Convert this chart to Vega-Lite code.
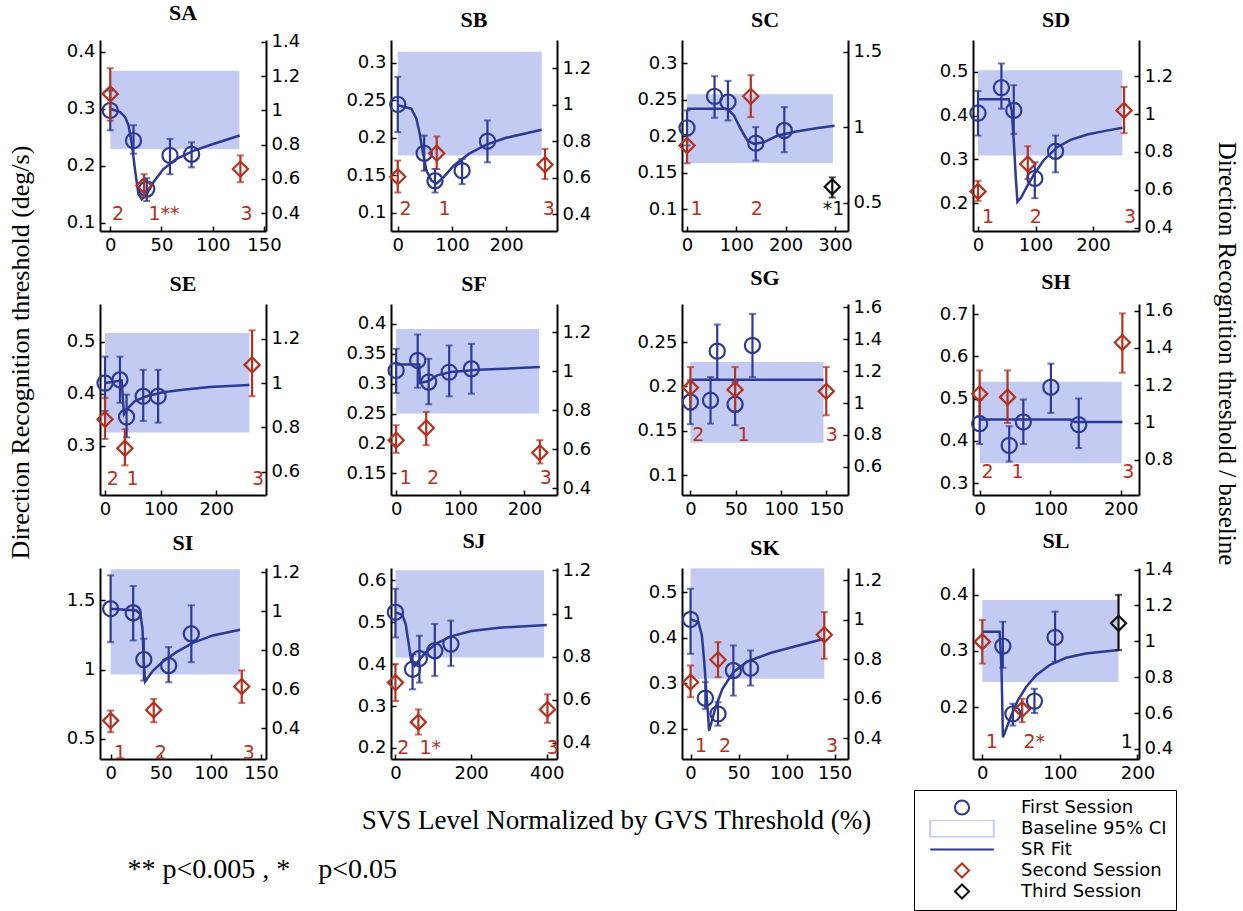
{
  "$schema": "https://vega.github.io/schema/vega-lite/v6.json",
  "background": "white",
  "padding": {"left": 7, "top": 1, "right": 0, "bottom": 0},
  "datasets": {
    "pts": [
      {"s":"SA","session":"First Session","x":0,"y":0.297,"lo":0.262,"hi":0.332},
      {"s":"SA","session":"First Session","x":22.7,"y":0.244,"lo":0.221,"hi":0.271},
      {"s":"SA","session":"First Session","x":35.6,"y":0.159,"lo":0.138,"hi":0.178},
      {"s":"SA","session":"First Session","x":58.3,"y":0.218,"lo":0.185,"hi":0.247},
      {"s":"SA","session":"First Session","x":79.4,"y":0.22,"lo":0.197,"hi":0.241},
      {"s":"SA","session":"Second Session","x":0,"y":0.326,"lo":0.279,"hi":0.371},
      {"s":"SA","session":"Second Session","x":33,"y":0.165,"lo":0.144,"hi":0.185},
      {"s":"SA","session":"Second Session","x":127,"y":0.194,"lo":0.171,"hi":0.218},
      {"s":"SB","session":"First Session","x":0,"y":0.2445,"lo":0.2074,"hi":0.2812},
      {"s":"SB","session":"First Session","x":48.75,"y":0.1792,"lo":0.1559,"hi":0.2029},
      {"s":"SB","session":"First Session","x":68.75,"y":0.1425,"lo":0.1268,"hi":0.1582},
      {"s":"SB","session":"First Session","x":118.75,"y":0.1559,"lo":0.138,"hi":0.1716},
      {"s":"SB","session":"First Session","x":165.6,"y":0.1953,"lo":0.1671,"hi":0.223},
      {"s":"SB","session":"Second Session","x":0,"y":0.1479,"lo":0.1268,"hi":0.1694},
      {"s":"SB","session":"Second Session","x":71.9,"y":0.1792,"lo":0.1582,"hi":0.2016},
      {"s":"SB","session":"Second Session","x":271.9,"y":0.164,"lo":0.1447,"hi":0.185},
      {"s":"SC","session":"First Session","x":0,"y":0.2117,"lo":0.1874,"hi":0.2356},
      {"s":"SC","session":"First Session","x":55.8,"y":0.2549,"lo":0.2255,"hi":0.2825},
      {"s":"SC","session":"First Session","x":83,"y":0.2471,"lo":0.2218,"hi":0.2761},
      {"s":"SC","session":"First Session","x":139.5,"y":0.1906,"lo":0.1667,"hi":0.2126},
      {"s":"SC","session":"First Session","x":197.3,"y":0.208,"lo":0.1782,"hi":0.2402},
      {"s":"SC","session":"Second Session","x":0,"y":0.1874,"lo":0.163,"hi":0.2011},
      {"s":"SC","session":"Second Session","x":129.3,"y":0.2549,"lo":0.2264,"hi":0.2839},
      {"s":"SC","session":"Third Session","x":294.6,"y":0.1308,"lo":0.1161,"hi":0.1437},
      {"s":"SD","session":"First Session","x":0,"y":0.4059,"lo":0.3546,"hi":0.4564},
      {"s":"SD","session":"First Session","x":40.7,"y":0.464,"lo":0.4158,"hi":0.5191},
      {"s":"SD","session":"First Session","x":62.2,"y":0.412,"lo":0.3585,"hi":0.4694},
      {"s":"SD","session":"First Session","x":98.8,"y":0.2567,"lo":0.2115,"hi":0.2934},
      {"s":"SD","session":"First Session","x":134.9,"y":0.3187,"lo":0.2705,"hi":0.3546},
      {"s":"SD","session":"Second Session","x":0,"y":0.2268,"lo":0.2054,"hi":0.2513},
      {"s":"SD","session":"Second Session","x":86.6,"y":0.2896,"lo":0.2552,"hi":0.3301},
      {"s":"SD","session":"Second Session","x":254,"y":0.412,"lo":0.36,"hi":0.4656},
      {"s":"SE","session":"First Session","x":0,"y":0.4206,"lo":0.3667,"hi":0.4714},
      {"s":"SE","session":"First Session","x":26.9,"y":0.427,"lo":0.3825,"hi":0.4714},
      {"s":"SE","session":"First Session","x":38.8,"y":0.3552,"lo":0.3159,"hi":0.3984},
      {"s":"SE","session":"First Session","x":68.7,"y":0.3952,"lo":0.3476,"hi":0.446},
      {"s":"SE","session":"First Session","x":95.5,"y":0.3952,"lo":0.3444,"hi":0.446},
      {"s":"SE","session":"Second Session","x":0,"y":0.3508,"lo":0.3127,"hi":0.3921},
      {"s":"SE","session":"Second Session","x":35.8,"y":0.2949,"lo":0.2619,"hi":0.3317},
      {"s":"SE","session":"Second Session","x":264.5,"y":0.4556,"lo":0.3952,"hi":0.5222},
      {"s":"SF","session":"First Session","x":0,"y":0.3222,"lo":0.2844,"hi":0.3583},
      {"s":"SF","session":"First Session","x":33.6,"y":0.3389,"lo":0.2933,"hi":0.3822},
      {"s":"SF","session":"First Session","x":50.7,"y":0.3028,"lo":0.2656,"hi":0.3417},
      {"s":"SF","session":"First Session","x":82.7,"y":0.3194,"lo":0.2789,"hi":0.3639},
      {"s":"SF","session":"First Session","x":117.3,"y":0.325,"lo":0.2833,"hi":0.3667},
      {"s":"SF","session":"Second Session","x":0,"y":0.2056,"lo":0.1844,"hi":0.2306},
      {"s":"SF","session":"Second Session","x":46.9,"y":0.2261,"lo":0.1972,"hi":0.2528},
      {"s":"SF","session":"Second Session","x":224,"y":0.1844,"lo":0.1667,"hi":0.2056},
      {"s":"SG","session":"First Session","x":0,"y":0.1825,"lo":0.1574,"hi":0.2069},
      {"s":"SG","session":"First Session","x":22.2,"y":0.1844,"lo":0.1581,"hi":0.2106},
      {"s":"SG","session":"First Session","x":29.6,"y":0.2399,"lo":0.2076,"hi":0.2699},
      {"s":"SG","session":"First Session","x":49.3,"y":0.1799,"lo":0.1563,"hi":0.205},
      {"s":"SG","session":"First Session","x":68.5,"y":0.2463,"lo":0.2106,"hi":0.2819},
      {"s":"SG","session":"Second Session","x":0,"y":0.1986,"lo":0.1739,"hi":0.2219},
      {"s":"SG","session":"Second Session","x":49.3,"y":0.1964,"lo":0.1713,"hi":0.2219},
      {"s":"SG","session":"Second Session","x":150,"y":0.1945,"lo":0.1675,"hi":0.2219},
      {"s":"SH","session":"First Session","x":0,"y":0.441,"lo":0.3927,"hi":0.498},
      {"s":"SH","session":"First Session","x":41.9,"y":0.3895,"lo":0.3515,"hi":0.4347},
      {"s":"SH","session":"First Session","x":61.9,"y":0.445,"lo":0.3927,"hi":0.498},
      {"s":"SH","session":"First Session","x":101,"y":0.5273,"lo":0.4663,"hi":0.5828},
      {"s":"SH","session":"First Session","x":140.5,"y":0.4386,"lo":0.3832,"hi":0.5004},
      {"s":"SH","session":"Second Session","x":0,"y":0.5115,"lo":0.4584,"hi":0.5669},
      {"s":"SH","session":"Second Session","x":39.5,"y":0.5036,"lo":0.4426,"hi":0.5669},
      {"s":"SH","session":"Second Session","x":202.4,"y":0.6327,"lo":0.5614,"hi":0.7016},
      {"s":"SI","session":"First Session","x":0,"y":1.4398,"lo":1.1988,"hi":1.6807},
      {"s":"SI","session":"First Session","x":22.5,"y":1.4108,"lo":1.2108,"hi":1.6036},
      {"s":"SI","session":"First Session","x":33.1,"y":1.0735,"lo":0.9217,"hi":1.2229},
      {"s":"SI","session":"First Session","x":57.9,"y":1.0301,"lo":0.9096,"hi":1.1627},
      {"s":"SI","session":"First Session","x":80.5,"y":1.259,"lo":1.0542,"hi":1.4639},
      {"s":"SI","session":"Second Session","x":0,"y":0.6325,"lo":0.5482,"hi":0.7048},
      {"s":"SI","session":"Second Session","x":43,"y":0.7096,"lo":0.6205,"hi":0.7892},
      {"s":"SI","session":"Second Session","x":130.8,"y":0.8783,"lo":0.7602,"hi":0.994},
      {"s":"SJ","session":"First Session","x":0,"y":0.524,"lo":0.464,"hi":0.58},
      {"s":"SJ","session":"First Session","x":45.2,"y":0.388,"lo":0.34,"hi":0.424},
      {"s":"SJ","session":"First Session","x":63.3,"y":0.4136,"lo":0.356,"hi":0.468},
      {"s":"SJ","session":"First Session","x":104,"y":0.432,"lo":0.372,"hi":0.496},
      {"s":"SJ","session":"First Session","x":146.6,"y":0.448,"lo":0.396,"hi":0.504},
      {"s":"SJ","session":"Second Session","x":0,"y":0.356,"lo":0.312,"hi":0.4},
      {"s":"SJ","session":"Second Session","x":60.6,"y":0.2616,"lo":0.232,"hi":0.292},
      {"s":"SJ","session":"Second Session","x":401.8,"y":0.292,"lo":0.26,"hi":0.328},
      {"s":"SK","session":"First Session","x":0,"y":0.44,"lo":0.3647,"hi":0.5073},
      {"s":"SK","session":"First Session","x":15.4,"y":0.2674,"lo":0.244,"hi":0.3025},
      {"s":"SK","session":"First Session","x":28.6,"y":0.233,"lo":0.2074,"hi":0.2586},
      {"s":"SK","session":"First Session","x":44.6,"y":0.3281,"lo":0.2732,"hi":0.383},
      {"s":"SK","session":"First Session","x":62.5,"y":0.3332,"lo":0.2952,"hi":0.372},
      {"s":"SK","session":"Second Session","x":0,"y":0.3025,"lo":0.2696,"hi":0.3391},
      {"s":"SK","session":"Second Session","x":28.6,"y":0.3515,"lo":0.3135,"hi":0.3903},
      {"s":"SK","session":"Second Session","x":139.3,"y":0.4064,"lo":0.3537,"hi":0.4561},
      {"s":"SL","session":"First Session","x":26.5,"y":0.3087,"lo":0.27,"hi":0.352},
      {"s":"SL","session":"First Session","x":39.4,"y":0.188,"lo":0.1672,"hi":0.206},
      {"s":"SL","session":"First Session","x":67.2,"y":0.2107,"lo":0.1893,"hi":0.2328},
      {"s":"SL","session":"First Session","x":93.8,"y":0.3242,"lo":0.2806,"hi":0.3701},
      {"s":"SL","session":"Second Session","x":0,"y":0.3164,"lo":0.2776,"hi":0.3552},
      {"s":"SL","session":"Second Session","x":51.4,"y":0.1958,"lo":0.1731,"hi":0.2149},
      {"s":"SL","session":"Third Session","x":175.6,"y":0.3493,"lo":0.3015,"hi":0.4}
    ],
    "fit": [
      {"s":"SA","x":0,"y":0.3},{"s":"SA","x":9.7,"y":0.294},{"s":"SA","x":14.6,"y":0.285},{"s":"SA","x":17.8,"y":0.271},{"s":"SA","x":21.1,"y":0.238},{"s":"SA","x":24.3,"y":0.191},{"s":"SA","x":27.5,"y":0.15},{"s":"SA","x":30.8,"y":0.141},{"s":"SA","x":35.6,"y":0.15},{"s":"SA","x":42.1,"y":0.171},{"s":"SA","x":51.8,"y":0.194},{"s":"SA","x":64.8,"y":0.212},{"s":"SA","x":81,"y":0.226},{"s":"SA","x":100.4,"y":0.238},{"s":"SA","x":126.3,"y":0.253},
      {"s":"SB","x":0,"y":0.2432},{"s":"SB","x":25,"y":0.2387},{"s":"SB","x":34.4,"y":0.2253},{"s":"SB","x":40.6,"y":0.2051},{"s":"SB","x":46.9,"y":0.1783},{"s":"SB","x":53.1,"y":0.1559},{"s":"SB","x":62.5,"y":0.1425},{"s":"SB","x":71.9,"y":0.1389},{"s":"SB","x":84.4,"y":0.147},{"s":"SB","x":103.1,"y":0.1626},{"s":"SB","x":131.3,"y":0.1783},{"s":"SB","x":162.5,"y":0.1904},{"s":"SB","x":200,"y":0.1998},{"s":"SB","x":237.5,"y":0.206},{"s":"SB","x":265.6,"y":0.2105},
      {"s":"SC","x":0,"y":0.2379},{"s":"SC","x":81.6,"y":0.2379},{"s":"SC","x":95.2,"y":0.2287},{"s":"SC","x":108.8,"y":0.2103},{"s":"SC","x":122.4,"y":0.1943},{"s":"SC","x":136,"y":0.1897},{"s":"SC","x":156.5,"y":0.192},{"s":"SC","x":183.7,"y":0.2011},{"s":"SC","x":224.5,"y":0.2071},{"s":"SC","x":265.3,"y":0.2113},{"s":"SC","x":299.3,"y":0.2145},
      {"s":"SD","x":0,"y":0.4373},{"s":"SD","x":53.5,"y":0.4373},{"s":"SD","x":58.7,"y":0.412},{"s":"SD","x":62.2,"y":0.3432},{"s":"SD","x":65.7,"y":0.259},{"s":"SD","x":68.6,"y":0.2031},{"s":"SD","x":75,"y":0.2131},{"s":"SD","x":84.3,"y":0.236},{"s":"SD","x":97.1,"y":0.2651},{"s":"SD","x":114.5,"y":0.2988},{"s":"SD","x":137.8,"y":0.3279},{"s":"SD","x":161,"y":0.3447},{"s":"SD","x":190.1,"y":0.3569},{"s":"SD","x":219.2,"y":0.3646},{"s":"SD","x":251.2,"y":0.3722},
      {"s":"SE","x":0,"y":0.4206},{"s":"SE","x":29.9,"y":0.4257},{"s":"SE","x":34,"y":0.3603},{"s":"SE","x":41.8,"y":0.373},{"s":"SE","x":53.7,"y":0.3857},{"s":"SE","x":74.6,"y":0.3952},{"s":"SE","x":104.5,"y":0.4029},{"s":"SE","x":140.3,"y":0.4079},{"s":"SE","x":188,"y":0.413},{"s":"SE","x":259.7,"y":0.4168},
      {"s":"SF","x":0,"y":0.3322},{"s":"SF","x":36,"y":0.3322},{"s":"SF","x":37,"y":0.3011},{"s":"SF","x":50.7,"y":0.3044},{"s":"SF","x":64,"y":0.3139},{"s":"SF","x":85.3,"y":0.3194},{"s":"SF","x":128,"y":0.3233},{"s":"SF","x":224,"y":0.3278},
      {"s":"SG","x":0,"y":0.2076},{"s":"SG","x":147,"y":0.2076},
      {"s":"SH","x":0,"y":0.4505},{"s":"SH","x":128,"y":0.4505},{"s":"SH","x":135,"y":0.445},{"s":"SH","x":202.4,"y":0.445},
      {"s":"SI","x":0,"y":1.4398},{"s":"SI","x":25.8,"y":1.4277},{"s":"SI","x":29.8,"y":1.3964},{"s":"SI","x":31.8,"y":1.2952},{"s":"SI","x":33.1,"y":1.0542},{"s":"SI","x":34.4,"y":0.9145},{"s":"SI","x":37.4,"y":0.9458},{"s":"SI","x":42.4,"y":0.994},{"s":"SI","x":52.3,"y":1.059},{"s":"SI","x":65.6,"y":1.1265},{"s":"SI","x":82.1,"y":1.194},{"s":"SI","x":102,"y":1.247},{"s":"SI","x":129.1,"y":1.288},
      {"s":"SJ","x":0,"y":0.524},{"s":"SJ","x":18.1,"y":0.5176},{"s":"SJ","x":27.1,"y":0.496},{"s":"SJ","x":34.4,"y":0.452},{"s":"SJ","x":41.6,"y":0.408},{"s":"SJ","x":50.7,"y":0.396},{"s":"SJ","x":63.3,"y":0.4104},{"s":"SJ","x":81.4,"y":0.4296},{"s":"SJ","x":110.4,"y":0.4504},{"s":"SJ","x":146.6,"y":0.4664},{"s":"SJ","x":200.9,"y":0.4792},{"s":"SJ","x":273.3,"y":0.4872},{"s":"SJ","x":400,"y":0.4936},
      {"s":"SK","x":0,"y":0.44},{"s":"SK","x":8.2,"y":0.4342},{"s":"SK","x":11.8,"y":0.4049},{"s":"SK","x":14.3,"y":0.3464},{"s":"SK","x":16.8,"y":0.2732},{"s":"SK","x":19.3,"y":0.1964},{"s":"SK","x":21.8,"y":0.2147},{"s":"SK","x":26.1,"y":0.2476},{"s":"SK","x":33.2,"y":0.2879},{"s":"SK","x":44.6,"y":0.3244},{"s":"SK","x":58.9,"y":0.3478},{"s":"SK","x":83.9,"y":0.3669},{"s":"SK","x":112.5,"y":0.383},{"s":"SK","x":139.3,"y":0.3976},
      {"s":"SL","x":0,"y":0.3343},{"s":"SL","x":22.3,"y":0.3343},{"s":"SL","x":24.8,"y":0.2657},{"s":"SL","x":26.6,"y":0.1463},{"s":"SL","x":30.8,"y":0.1612},{"s":"SL","x":37.3,"y":0.1851},{"s":"SL","x":45.8,"y":0.2119},{"s":"SL","x":56.5,"y":0.2358},{"s":"SL","x":69.4,"y":0.2567},{"s":"SL","x":86.5,"y":0.2746},{"s":"SL","x":107.9,"y":0.2878},{"s":"SL","x":133.6,"y":0.2955},{"s":"SL","x":175.6,"y":0.3015}
    ],
    "band": [
      {"s":"SA","x":0,"x2":126,"y":0.2294,"y2":0.3665},
      {"s":"SB","x":0,"x2":265.6,"y":0.1761,"y2":0.3148},
      {"s":"SC","x":0,"x2":296,"y":0.1634,"y2":0.2577},
      {"s":"SD","x":0,"x2":251,"y":0.3087,"y2":0.5038},
      {"s":"SE","x":0,"x2":259.7,"y":0.3254,"y2":0.5171},
      {"s":"SF","x":0,"x2":223,"y":0.25,"y2":0.3917},
      {"s":"SG","x":0,"x2":147,"y":0.1364,"y2":0.2275},
      {"s":"SH","x":0,"x2":201.4,"y":0.3475,"y2":0.54},
      {"s":"SI","x":0,"x2":129,"y":0.965,"y2":1.724},
      {"s":"SJ","x":0,"x2":392.8,"y":0.416,"y2":0.624},
      {"s":"SK","x":0,"x2":139.3,"y":0.3098,"y2":0.552},
      {"s":"SL","x":0,"x2":175.6,"y":0.2448,"y2":0.391}
    ],
    "lab": [
      {"s":"SA","session":"Second Session","x":1.6,"y":0.1147,"t":"2"},
      {"s":"SA","session":"Second Session","x":37.3,"y":0.1147,"t":"1**"},
      {"s":"SA","session":"Second Session","x":127,"y":0.1147,"t":"3"},
      {"s":"SB","session":"Second Session","x":3.1,"y":0.1045,"t":"2"},
      {"s":"SB","session":"Second Session","x":75,"y":0.1045,"t":"1"},
      {"s":"SB","session":"Second Session","x":267.5,"y":0.1045,"t":"3"},
      {"s":"SC","session":"Second Session","x":6.8,"y":0.1,"t":"1"},
      {"s":"SC","session":"Second Session","x":129.3,"y":0.1,"t":"2"},
      {"s":"SC","session":"Third Session","x":275.5,"y":0.1,"t":"*1"},
      {"s":"SD","session":"Second Session","x":7,"y":0.1687,"t":"1"},
      {"s":"SD","session":"Second Session","x":90.1,"y":0.1687,"t":"2"},
      {"s":"SD","session":"Second Session","x":254.1,"y":0.1687,"t":"3"},
      {"s":"SE","session":"Second Session","x":3,"y":0.2365,"t":"2"},
      {"s":"SE","session":"Second Session","x":38.8,"y":0.2365,"t":"1"},
      {"s":"SE","session":"Second Session","x":264.5,"y":0.2365,"t":"3"},
      {"s":"SF","session":"Second Session","x":5.3,"y":0.1417,"t":"1"},
      {"s":"SF","session":"Second Session","x":48,"y":0.1417,"t":"2"},
      {"s":"SF","session":"Second Session","x":224,"y":0.1417,"t":"3"},
      {"s":"SG","session":"Second Session","x":1.9,"y":0.145,"t":"2"},
      {"s":"SG","session":"Second Session","x":51.9,"y":0.145,"t":"1"},
      {"s":"SG","session":"Second Session","x":149.3,"y":0.145,"t":"3"},
      {"s":"SH","session":"Second Session","x":2.4,"y":0.3277,"t":"2"},
      {"s":"SH","session":"Second Session","x":45.2,"y":0.3277,"t":"1"},
      {"s":"SH","session":"Second Session","x":202.4,"y":0.3277,"t":"3"},
      {"s":"SI","session":"Second Session","x":3.3,"y":0.398,"t":"1"},
      {"s":"SI","session":"Second Session","x":44,"y":0.398,"t":"2"},
      {"s":"SI","session":"Second Session","x":131.8,"y":0.398,"t":"3"},
      {"s":"SJ","session":"Second Session","x":4.5,"y":0.2,"t":"2"},
      {"s":"SJ","session":"Second Session","x":63.3,"y":0.2,"t":"1*"},
      {"s":"SJ","session":"Second Session","x":400,"y":0.2,"t":"3"},
      {"s":"SK","session":"Second Session","x":4.6,"y":0.1635,"t":"1"},
      {"s":"SK","session":"Second Session","x":29.6,"y":0.1635,"t":"2"},
      {"s":"SK","session":"Second Session","x":141,"y":0.1635,"t":"3"},
      {"s":"SL","session":"Second Session","x":4.3,"y":0.1373,"t":"1"},
      {"s":"SL","session":"Second Session","x":53.1,"y":0.1373,"t":"2*"},
      {"s":"SL","session":"Third Session","x":178.6,"y":0.1373,"t":"1"}
    ]
  },
  "columns": 4,
  "bounds": "flush",
  "spacing": {"row": 73, "column": 125},
  "concat": [
    {"title": "SA", "width": 166, "height": 191,
     "layer": [
      {"encoding": {
        "x": {"field": "x", "type": "quantitative", "scale": {"domain": [-10, 152], "nice": false, "zero": false}, "axis": {"values": [0, 50, 100, 150], "title": null}},
        "y": {"field": "y", "type": "quantitative", "scale": {"domain": [0.0853, 0.4206], "nice": false, "zero": false},
          "axis": {"values": [0.1, 0.2, 0.3, 0.4], "title": "Direction Recognition threshold (deg/s)", "titleFont": "Liberation Serif", "titleFontSize": 26, "titleFontWeight": "normal", "titleX": -67, "titleY": 312, "titleAngle": -90, "titleAlign": "center", "titleBaseline": "bottom"}}},
       "layer": [
        {"data": {"name": "band"}, "transform": [{"filter": "datum.s === 'SA'"}], "mark": {"type": "rect", "color": "#c3cbf2"}, "encoding": {"x2": {"field": "x2"}, "y2": {"field": "y2"}}},
        {"data": {"name": "fit"}, "transform": [{"filter": "datum.s === 'SA'"}], "mark": {"type": "line", "color": "#2c3a96", "strokeWidth": 2.5}},
        {"data": {"name": "pts"}, "transform": [{"filter": "datum.s === 'SA'"}], "mark": {"type": "point", "filled": false, "opacity": 1, "size": 230, "strokeWidth": 2.2},
         "encoding": {
          "color": {"field": "session", "type": "nominal", "scale": {"domain": ["First Session","Baseline 95% CI","SR Fit","Second Session","Third Session"], "range": ["#2c3a96","#c3cbf2","#2c3a96","#b5311f","#111111"]},
            "legend": {"title": null, "orient": "none", "legendX": 814, "legendY": 750, "padding": 9, "strokeColor": "#000", "fillColor": "#fff",
              "labelFont": "DejaVu Sans", "labelFontSize": 18, "labelColor": "#000", "labelLimit": 400, "symbolSize": 200, "symbolOffset": 30, "labelOffset": 50, "rowPadding": 2, "clipHeight": 17,
              "symbolStrokeWidth": 2,
              "labelExpr": "datum.label + '\u00a0\u00a0\u00a0\u00a0\u00a0\u00a0\u00a0\u00a0\u00a0\u00a0\u00a0\u00a0'",
              "encode": {
                "symbols": {
                  "fill": {"value": {"expr": "datum.value === 'Baseline 95% CI' ? '#c3cbf2' : 'transparent'"}},
                  "stroke": {"value": {"expr": "datum.value === 'Baseline 95% CI' ? 'transparent' : datum.value === 'Second Session' ? '#b5311f' : datum.value === 'Third Session' ? '#111111' : '#2c3a96'"}},
                  "strokeWidth": {"value": 2}, "opacity": {"value": 1}}}}},
          "shape": {"field": "session", "type": "nominal", "scale": {"domain": ["First Session","Baseline 95% CI","SR Fit","Second Session","Third Session"], "range": ["circle","M-4.5,-1.2H4.5V1.2H-4.5Z","M-4.5,0H4.5","diamond","diamond"]},
            "legend": {"title": null, "orient": "none", "legendX": 814, "legendY": 750, "padding": 9, "strokeColor": "#000", "fillColor": "#fff",
              "labelFont": "DejaVu Sans", "labelFontSize": 18, "labelColor": "#000", "labelLimit": 400, "symbolSize": 200, "symbolOffset": 30, "labelOffset": 50, "rowPadding": 2, "clipHeight": 17,
              "symbolStrokeWidth": 2,
              "labelExpr": "datum.label + '\u00a0\u00a0\u00a0\u00a0\u00a0\u00a0\u00a0\u00a0\u00a0\u00a0\u00a0\u00a0'",
              "encode": {
                "symbols": {
                  "fill": {"value": {"expr": "datum.value === 'Baseline 95% CI' ? '#c3cbf2' : 'transparent'"}},
                  "stroke": {"value": {"expr": "datum.value === 'Baseline 95% CI' ? 'transparent' : datum.value === 'Second Session' ? '#b5311f' : datum.value === 'Third Session' ? '#111111' : '#2c3a96'"}},
                  "strokeWidth": {"value": 2}, "opacity": {"value": 1}}}}}}},
        {"data": {"name": "pts"}, "transform": [{"filter": "datum.s === 'SA'"}], "mark": {"type": "errorbar", "ticks": {"size": 7, "thickness": 2}, "rule": {"strokeWidth": 2.2}},
         "encoding": {"y": {"field": "lo", "type": "quantitative", "scale": {"domain": [0.0853, 0.4206], "nice": false, "zero": false},
           "axis": {"values": [0.1, 0.2, 0.3, 0.4], "title": "Direction Recognition threshold (deg/s)", "titleFont": "Liberation Serif", "titleFontSize": 26, "titleFontWeight": "normal", "titleX": -67, "titleY": 312, "titleAngle": -90, "titleAlign": "center", "titleBaseline": "bottom"}}, "y2": {"field": "hi"},
          "color": {"condition": [{"test": "datum.session === 'Second Session'", "value": "#b5311f"}, {"test": "datum.session === 'Third Session'", "value": "#111111"}], "value": "#2c3a96"}}},
        {"data": {"name": "lab"}, "transform": [{"filter": "datum.s === 'SA'"}], "mark": {"type": "text", "align": "left", "baseline": "middle", "font": "DejaVu Sans", "fontSize": 19},
         "encoding": {"text": {"field": "t"}, "color": {"condition": [{"test": "datum.session === 'Second Session'", "value": "#b5311f"}, {"test": "datum.session === 'Third Session'", "value": "#111111"}], "value": "#2c3a96"}}}
       ]},
      {"data": {"values": [{}]}, "mark": {"type": "rule", "opacity": 0},
       "encoding": {"y": {"datum": 1, "type": "quantitative", "scale": {"domain": [0.2965, 1.41], "nice": false, "zero": false}, "axis": {"orient": "right", "values": [0.4, 0.6, 0.8, 1, 1.2, 1.4], "title": null}}}}
     ],
     "resolve": {"scale": {"y": "independent"}}},

    {"title": "SB", "width": 166, "height": 191,
     "layer": [
      {"encoding": {
        "x": {"field": "x", "type": "quantitative", "scale": {"domain": [-12.5, 294], "nice": false, "zero": false}, "axis": {"values": [0, 100, 200], "title": null}},
        "y": {"field": "y", "type": "quantitative", "scale": {"domain": [0.0754, 0.3304], "nice": false, "zero": false}, "axis": {"values": [0.1, 0.15, 0.2, 0.25, 0.3], "title": null}}},
       "layer": [
        {"data": {"name": "band"}, "transform": [{"filter": "datum.s === 'SB'"}], "mark": {"type": "rect", "color": "#c3cbf2"}, "encoding": {"x2": {"field": "x2"}, "y2": {"field": "y2"}}},
        {"data": {"name": "fit"}, "transform": [{"filter": "datum.s === 'SB'"}], "mark": {"type": "line", "color": "#2c3a96", "strokeWidth": 2.5}},
        {"data": {"name": "pts"}, "transform": [{"filter": "datum.s === 'SB'"}], "mark": {"type": "errorbar", "ticks": {"size": 7, "thickness": 2}, "rule": {"strokeWidth": 2.2}},
         "encoding": {"y": {"field": "lo", "type": "quantitative", "scale": {"domain": [0.0754, 0.3304], "nice": false, "zero": false}, "axis": {"values": [0.1, 0.15, 0.2, 0.25, 0.3], "title": null}}, "y2": {"field": "hi"},
          "color": {"condition": [{"test": "datum.session === 'Second Session'", "value": "#b5311f"}, {"test": "datum.session === 'Third Session'", "value": "#111111"}], "value": "#2c3a96"}}},
        {"data": {"name": "pts"}, "transform": [{"filter": "datum.s === 'SB'"}], "mark": {"type": "point", "filled": false, "opacity": 1, "size": 230, "strokeWidth": 2.2},
         "encoding": {
          "color": {"field": "session", "type": "nominal", "scale": {"domain": ["First Session","Baseline 95% CI","SR Fit","Second Session","Third Session"], "range": ["#2c3a96","#c3cbf2","#2c3a96","#b5311f","#111111"]}},
          "shape": {"field": "session", "type": "nominal", "scale": {"domain": ["First Session","Baseline 95% CI","SR Fit","Second Session","Third Session"], "range": ["circle","M-4.5,-1.2H4.5V1.2H-4.5Z","M-4.5,0H4.5","diamond","diamond"]}}}},
        {"data": {"name": "lab"}, "transform": [{"filter": "datum.s === 'SB'"}], "mark": {"type": "text", "align": "left", "baseline": "middle", "font": "DejaVu Sans", "fontSize": 19},
         "encoding": {"text": {"field": "t"}, "color": {"condition": [{"test": "datum.session === 'Second Session'", "value": "#b5311f"}, {"test": "datum.session === 'Third Session'", "value": "#111111"}], "value": "#2c3a96"}}}
       ]},
      {"data": {"values": [{}]}, "mark": {"type": "rule", "opacity": 0},
       "encoding": {"y": {"datum": 1, "type": "quantitative", "scale": {"domain": [0.308, 1.356], "nice": false, "zero": false}, "axis": {"orient": "right", "values": [0.4, 0.6, 0.8, 1, 1.2], "title": null}}}}
     ],
     "resolve": {"scale": {"y": "independent"}}},

    {"title": "SC", "width": 166, "height": 191,
     "layer": [
      {"encoding": {
        "x": {"field": "x", "type": "quantitative", "scale": {"domain": [-10.2, 326.5], "nice": false, "zero": false}, "axis": {"values": [0, 100, 200, 300], "title": null}},
        "y": {"field": "y", "type": "quantitative", "scale": {"domain": [0.0701, 0.3322], "nice": false, "zero": false}, "axis": {"values": [0.1, 0.15, 0.2, 0.25, 0.3], "title": null}}},
       "layer": [
        {"data": {"name": "band"}, "transform": [{"filter": "datum.s === 'SC'"}], "mark": {"type": "rect", "color": "#c3cbf2"}, "encoding": {"x2": {"field": "x2"}, "y2": {"field": "y2"}}},
        {"data": {"name": "fit"}, "transform": [{"filter": "datum.s === 'SC'"}], "mark": {"type": "line", "color": "#2c3a96", "strokeWidth": 2.5}},
        {"data": {"name": "pts"}, "transform": [{"filter": "datum.s === 'SC'"}], "mark": {"type": "errorbar", "ticks": {"size": 7, "thickness": 2}, "rule": {"strokeWidth": 2.2}},
         "encoding": {"y": {"field": "lo", "type": "quantitative", "scale": {"domain": [0.0701, 0.3322], "nice": false, "zero": false}, "axis": {"values": [0.1, 0.15, 0.2, 0.25, 0.3], "title": null}}, "y2": {"field": "hi"},
          "color": {"condition": [{"test": "datum.session === 'Second Session'", "value": "#b5311f"}, {"test": "datum.session === 'Third Session'", "value": "#111111"}], "value": "#2c3a96"}}},
        {"data": {"name": "pts"}, "transform": [{"filter": "datum.s === 'SC'"}], "mark": {"type": "point", "filled": false, "opacity": 1, "size": 230, "strokeWidth": 2.2},
         "encoding": {
          "color": {"field": "session", "type": "nominal", "scale": {"domain": ["First Session","Baseline 95% CI","SR Fit","Second Session","Third Session"], "range": ["#2c3a96","#c3cbf2","#2c3a96","#b5311f","#111111"]}},
          "shape": {"field": "session", "type": "nominal", "scale": {"domain": ["First Session","Baseline 95% CI","SR Fit","Second Session","Third Session"], "range": ["circle","M-4.5,-1.2H4.5V1.2H-4.5Z","M-4.5,0H4.5","diamond","diamond"]}}}},
        {"data": {"name": "lab"}, "transform": [{"filter": "datum.s === 'SC'"}], "mark": {"type": "text", "align": "left", "baseline": "middle", "font": "DejaVu Sans", "fontSize": 19},
         "encoding": {"text": {"field": "t"}, "color": {"condition": [{"test": "datum.session === 'Second Session'", "value": "#b5311f"}, {"test": "datum.session === 'Third Session'", "value": "#111111"}], "value": "#2c3a96"}}}
       ]},
      {"data": {"values": [{}]}, "mark": {"type": "rule", "opacity": 0},
       "encoding": {"y": {"datum": 1, "type": "quantitative", "scale": {"domain": [0.311, 1.578], "nice": false, "zero": false}, "axis": {"orient": "right", "values": [0.5, 1, 1.5], "title": null}}}}
     ],
     "resolve": {"scale": {"y": "independent"}}},

    {"title": "SD", "width": 166, "height": 191,
     "layer": [
      {"encoding": {
        "x": {"field": "x", "type": "quantitative", "scale": {"domain": [-8.7, 280], "nice": false, "zero": false}, "axis": {"values": [0, 100, 200], "title": null}},
        "y": {"field": "y", "type": "quantitative", "scale": {"domain": [0.1366, 0.5727], "nice": false, "zero": false}, "axis": {"values": [0.2, 0.3, 0.4, 0.5], "title": null}}},
       "layer": [
        {"data": {"name": "band"}, "transform": [{"filter": "datum.s === 'SD'"}], "mark": {"type": "rect", "color": "#c3cbf2"}, "encoding": {"x2": {"field": "x2"}, "y2": {"field": "y2"}}},
        {"data": {"name": "fit"}, "transform": [{"filter": "datum.s === 'SD'"}], "mark": {"type": "line", "color": "#2c3a96", "strokeWidth": 2.5}},
        {"data": {"name": "pts"}, "transform": [{"filter": "datum.s === 'SD'"}], "mark": {"type": "errorbar", "ticks": {"size": 7, "thickness": 2}, "rule": {"strokeWidth": 2.2}},
         "encoding": {"y": {"field": "lo", "type": "quantitative", "scale": {"domain": [0.1366, 0.5727], "nice": false, "zero": false}, "axis": {"values": [0.2, 0.3, 0.4, 0.5], "title": null}}, "y2": {"field": "hi"},
          "color": {"condition": [{"test": "datum.session === 'Second Session'", "value": "#b5311f"}, {"test": "datum.session === 'Third Session'", "value": "#111111"}], "value": "#2c3a96"}}},
        {"data": {"name": "pts"}, "transform": [{"filter": "datum.s === 'SD'"}], "mark": {"type": "point", "filled": false, "opacity": 1, "size": 230, "strokeWidth": 2.2},
         "encoding": {
          "color": {"field": "session", "type": "nominal", "scale": {"domain": ["First Session","Baseline 95% CI","SR Fit","Second Session","Third Session"], "range": ["#2c3a96","#c3cbf2","#2c3a96","#b5311f","#111111"]}},
          "shape": {"field": "session", "type": "nominal", "scale": {"domain": ["First Session","Baseline 95% CI","SR Fit","Second Session","Third Session"], "range": ["circle","M-4.5,-1.2H4.5V1.2H-4.5Z","M-4.5,0H4.5","diamond","diamond"]}}}},
        {"data": {"name": "lab"}, "transform": [{"filter": "datum.s === 'SD'"}], "mark": {"type": "text", "align": "left", "baseline": "middle", "font": "DejaVu Sans", "fontSize": 19},
         "encoding": {"text": {"field": "t"}, "color": {"condition": [{"test": "datum.session === 'Second Session'", "value": "#b5311f"}, {"test": "datum.session === 'Third Session'", "value": "#111111"}], "value": "#2c3a96"}}}
       ]},
      {"data": {"values": [{}]}, "mark": {"type": "rule", "opacity": 0},
       "encoding": {"y": {"datum": 1, "type": "quantitative", "scale": {"domain": [0.382, 1.391], "nice": false, "zero": false},
         "axis": {"orient": "right", "values": [0.4, 0.6, 0.8, 1, 1.2], "title": "Direction Recognition threshold / baseline", "titleFont": "Liberation Serif", "titleFontSize": 25, "titleFontWeight": "normal", "titleX": 74, "titleY": 313, "titleAngle": 90, "titleAlign": "center", "titleBaseline": "bottom"}}}}
     ],
     "resolve": {"scale": {"y": "independent"}}},

    {"title": "SE", "width": 166, "height": 191,
     "layer": [
      {"encoding": {
        "x": {"field": "x", "type": "quantitative", "scale": {"domain": [-9, 289.5], "nice": false, "zero": false}, "axis": {"values": [0, 100, 200], "title": null}},
        "y": {"field": "y", "type": "quantitative", "scale": {"domain": [0.2048, 0.573], "nice": false, "zero": false}, "axis": {"values": [0.3, 0.4, 0.5], "title": null}}},
       "layer": [
        {"data": {"name": "band"}, "transform": [{"filter": "datum.s === 'SE'"}], "mark": {"type": "rect", "color": "#c3cbf2"}, "encoding": {"x2": {"field": "x2"}, "y2": {"field": "y2"}}},
        {"data": {"name": "fit"}, "transform": [{"filter": "datum.s === 'SE'"}], "mark": {"type": "line", "color": "#2c3a96", "strokeWidth": 2.5}},
        {"data": {"name": "pts"}, "transform": [{"filter": "datum.s === 'SE'"}], "mark": {"type": "errorbar", "ticks": {"size": 7, "thickness": 2}, "rule": {"strokeWidth": 2.2}},
         "encoding": {"y": {"field": "lo", "type": "quantitative", "scale": {"domain": [0.2048, 0.573], "nice": false, "zero": false}, "axis": {"values": [0.3, 0.4, 0.5], "title": null}}, "y2": {"field": "hi"},
          "color": {"condition": [{"test": "datum.session === 'Second Session'", "value": "#b5311f"}, {"test": "datum.session === 'Third Session'", "value": "#111111"}], "value": "#2c3a96"}}},
        {"data": {"name": "pts"}, "transform": [{"filter": "datum.s === 'SE'"}], "mark": {"type": "point", "filled": false, "opacity": 1, "size": 230, "strokeWidth": 2.2},
         "encoding": {
          "color": {"field": "session", "type": "nominal", "scale": {"domain": ["First Session","Baseline 95% CI","SR Fit","Second Session","Third Session"], "range": ["#2c3a96","#c3cbf2","#2c3a96","#b5311f","#111111"]}},
          "shape": {"field": "session", "type": "nominal", "scale": {"domain": ["First Session","Baseline 95% CI","SR Fit","Second Session","Third Session"], "range": ["circle","M-4.5,-1.2H4.5V1.2H-4.5Z","M-4.5,0H4.5","diamond","diamond"]}}}},
        {"data": {"name": "lab"}, "transform": [{"filter": "datum.s === 'SE'"}], "mark": {"type": "text", "align": "left", "baseline": "middle", "font": "DejaVu Sans", "fontSize": 19},
         "encoding": {"text": {"field": "t"}, "color": {"condition": [{"test": "datum.session === 'Second Session'", "value": "#b5311f"}, {"test": "datum.session === 'Third Session'", "value": "#111111"}], "value": "#2c3a96"}}}
       ]},
      {"data": {"values": [{}]}, "mark": {"type": "rule", "opacity": 0},
       "encoding": {"y": {"datum": 1, "type": "quantitative", "scale": {"domain": [0.4963, 1.3556], "nice": false, "zero": false}, "axis": {"orient": "right", "values": [0.6, 0.8, 1, 1.2], "title": null}}}}
     ],
     "resolve": {"scale": {"y": "independent"}}},

    {"title": "SF", "width": 166, "height": 191,
     "layer": [
      {"encoding": {
        "x": {"field": "x", "type": "quantitative", "scale": {"domain": [-8, 250.7], "nice": false, "zero": false}, "axis": {"values": [0, 100, 200], "title": null}},
        "y": {"field": "y", "type": "quantitative", "scale": {"domain": [0.1139, 0.4333], "nice": false, "zero": false}, "axis": {"values": [0.15, 0.2, 0.25, 0.3, 0.35, 0.4], "title": null}}},
       "layer": [
        {"data": {"name": "band"}, "transform": [{"filter": "datum.s === 'SF'"}], "mark": {"type": "rect", "color": "#c3cbf2"}, "encoding": {"x2": {"field": "x2"}, "y2": {"field": "y2"}}},
        {"data": {"name": "fit"}, "transform": [{"filter": "datum.s === 'SF'"}], "mark": {"type": "line", "color": "#2c3a96", "strokeWidth": 2.5}},
        {"data": {"name": "pts"}, "transform": [{"filter": "datum.s === 'SF'"}], "mark": {"type": "errorbar", "ticks": {"size": 7, "thickness": 2}, "rule": {"strokeWidth": 2.2}},
         "encoding": {"y": {"field": "lo", "type": "quantitative", "scale": {"domain": [0.1139, 0.4333], "nice": false, "zero": false}, "axis": {"values": [0.15, 0.2, 0.25, 0.3, 0.35, 0.4], "title": null}}, "y2": {"field": "hi"},
          "color": {"condition": [{"test": "datum.session === 'Second Session'", "value": "#b5311f"}, {"test": "datum.session === 'Third Session'", "value": "#111111"}], "value": "#2c3a96"}}},
        {"data": {"name": "pts"}, "transform": [{"filter": "datum.s === 'SF'"}], "mark": {"type": "point", "filled": false, "opacity": 1, "size": 230, "strokeWidth": 2.2},
         "encoding": {
          "color": {"field": "session", "type": "nominal", "scale": {"domain": ["First Session","Baseline 95% CI","SR Fit","Second Session","Third Session"], "range": ["#2c3a96","#c3cbf2","#2c3a96","#b5311f","#111111"]}},
          "shape": {"field": "session", "type": "nominal", "scale": {"domain": ["First Session","Baseline 95% CI","SR Fit","Second Session","Third Session"], "range": ["circle","M-4.5,-1.2H4.5V1.2H-4.5Z","M-4.5,0H4.5","diamond","diamond"]}}}},
        {"data": {"name": "lab"}, "transform": [{"filter": "datum.s === 'SF'"}], "mark": {"type": "text", "align": "left", "baseline": "middle", "font": "DejaVu Sans", "fontSize": 19},
         "encoding": {"text": {"field": "t"}, "color": {"condition": [{"test": "datum.session === 'Second Session'", "value": "#b5311f"}, {"test": "datum.session === 'Third Session'", "value": "#111111"}], "value": "#2c3a96"}}}
       ]},
      {"data": {"values": [{}]}, "mark": {"type": "rule", "opacity": 0},
       "encoding": {"y": {"datum": 1, "type": "quantitative", "scale": {"domain": [0.366, 1.3447], "nice": false, "zero": false}, "axis": {"orient": "right", "values": [0.4, 0.6, 0.8, 1, 1.2], "title": null}}}}
     ],
     "resolve": {"scale": {"y": "independent"}}},

    {"title": "SG", "width": 166, "height": 191,
     "layer": [
      {"encoding": {
        "x": {"field": "x", "type": "quantitative", "scale": {"domain": [-9.3, 174], "nice": false, "zero": false}, "axis": {"values": [0, 50, 100, 150], "title": null}},
        "y": {"field": "y", "type": "quantitative", "scale": {"domain": [0.0775, 0.2931], "nice": false, "zero": false}, "axis": {"values": [0.1, 0.15, 0.2, 0.25], "title": null}}},
       "layer": [
        {"data": {"name": "band"}, "transform": [{"filter": "datum.s === 'SG'"}], "mark": {"type": "rect", "color": "#c3cbf2"}, "encoding": {"x2": {"field": "x2"}, "y2": {"field": "y2"}}},
        {"data": {"name": "fit"}, "transform": [{"filter": "datum.s === 'SG'"}], "mark": {"type": "line", "color": "#2c3a96", "strokeWidth": 2.5}},
        {"data": {"name": "pts"}, "transform": [{"filter": "datum.s === 'SG'"}], "mark": {"type": "errorbar", "ticks": {"size": 7, "thickness": 2}, "rule": {"strokeWidth": 2.2}},
         "encoding": {"y": {"field": "lo", "type": "quantitative", "scale": {"domain": [0.0775, 0.2931], "nice": false, "zero": false}, "axis": {"values": [0.1, 0.15, 0.2, 0.25], "title": null}}, "y2": {"field": "hi"},
          "color": {"condition": [{"test": "datum.session === 'Second Session'", "value": "#b5311f"}, {"test": "datum.session === 'Third Session'", "value": "#111111"}], "value": "#2c3a96"}}},
        {"data": {"name": "pts"}, "transform": [{"filter": "datum.s === 'SG'"}], "mark": {"type": "point", "filled": false, "opacity": 1, "size": 230, "strokeWidth": 2.2},
         "encoding": {
          "color": {"field": "session", "type": "nominal", "scale": {"domain": ["First Session","Baseline 95% CI","SR Fit","Second Session","Third Session"], "range": ["#2c3a96","#c3cbf2","#2c3a96","#b5311f","#111111"]}},
          "shape": {"field": "session", "type": "nominal", "scale": {"domain": ["First Session","Baseline 95% CI","SR Fit","Second Session","Third Session"], "range": ["circle","M-4.5,-1.2H4.5V1.2H-4.5Z","M-4.5,0H4.5","diamond","diamond"]}}}},
        {"data": {"name": "lab"}, "transform": [{"filter": "datum.s === 'SG'"}], "mark": {"type": "text", "align": "left", "baseline": "middle", "font": "DejaVu Sans", "fontSize": 19},
         "encoding": {"text": {"field": "t"}, "color": {"condition": [{"test": "datum.session === 'Second Session'", "value": "#b5311f"}, {"test": "datum.session === 'Third Session'", "value": "#111111"}], "value": "#2c3a96"}}}
       ]},
      {"data": {"values": [{}]}, "mark": {"type": "rule", "opacity": 0},
       "encoding": {"y": {"datum": 1, "type": "quantitative", "scale": {"domain": [0.423, 1.621], "nice": false, "zero": false}, "axis": {"orient": "right", "values": [0.6, 0.8, 1, 1.2, 1.4, 1.6], "title": null}}}}
     ],
     "resolve": {"scale": {"y": "independent"}}},

    {"title": "SH", "width": 166, "height": 191,
     "layer": [
      {"encoding": {
        "x": {"field": "x", "type": "quantitative", "scale": {"domain": [-9.5, 226], "nice": false, "zero": false}, "axis": {"values": [0, 100, 200], "title": null}},
        "y": {"field": "y", "type": "quantitative", "scale": {"domain": [0.2723, 0.7238], "nice": false, "zero": false}, "axis": {"values": [0.3, 0.4, 0.5, 0.6, 0.7], "title": null}}},
       "layer": [
        {"data": {"name": "band"}, "transform": [{"filter": "datum.s === 'SH'"}], "mark": {"type": "rect", "color": "#c3cbf2"}, "encoding": {"x2": {"field": "x2"}, "y2": {"field": "y2"}}},
        {"data": {"name": "fit"}, "transform": [{"filter": "datum.s === 'SH'"}], "mark": {"type": "line", "color": "#2c3a96", "strokeWidth": 2.5}},
        {"data": {"name": "pts"}, "transform": [{"filter": "datum.s === 'SH'"}], "mark": {"type": "errorbar", "ticks": {"size": 7, "thickness": 2}, "rule": {"strokeWidth": 2.2}},
         "encoding": {"y": {"field": "lo", "type": "quantitative", "scale": {"domain": [0.2723, 0.7238], "nice": false, "zero": false}, "axis": {"values": [0.3, 0.4, 0.5, 0.6, 0.7], "title": null}}, "y2": {"field": "hi"},
          "color": {"condition": [{"test": "datum.session === 'Second Session'", "value": "#b5311f"}, {"test": "datum.session === 'Third Session'", "value": "#111111"}], "value": "#2c3a96"}}},
        {"data": {"name": "pts"}, "transform": [{"filter": "datum.s === 'SH'"}], "mark": {"type": "point", "filled": false, "opacity": 1, "size": 230, "strokeWidth": 2.2},
         "encoding": {
          "color": {"field": "session", "type": "nominal", "scale": {"domain": ["First Session","Baseline 95% CI","SR Fit","Second Session","Third Session"], "range": ["#2c3a96","#c3cbf2","#2c3a96","#b5311f","#111111"]}},
          "shape": {"field": "session", "type": "nominal", "scale": {"domain": ["First Session","Baseline 95% CI","SR Fit","Second Session","Third Session"], "range": ["circle","M-4.5,-1.2H4.5V1.2H-4.5Z","M-4.5,0H4.5","diamond","diamond"]}}}},
        {"data": {"name": "lab"}, "transform": [{"filter": "datum.s === 'SH'"}], "mark": {"type": "text", "align": "left", "baseline": "middle", "font": "DejaVu Sans", "fontSize": 19},
         "encoding": {"text": {"field": "t"}, "color": {"condition": [{"test": "datum.session === 'Second Session'", "value": "#b5311f"}, {"test": "datum.session === 'Third Session'", "value": "#111111"}], "value": "#2c3a96"}}}
       ]},
      {"data": {"values": [{}]}, "mark": {"type": "rule", "opacity": 0},
       "encoding": {"y": {"datum": 1, "type": "quantitative", "scale": {"domain": [0.611, 1.636], "nice": false, "zero": false}, "axis": {"orient": "right", "values": [0.8, 1, 1.2, 1.4, 1.6], "title": null}}}}
     ],
     "resolve": {"scale": {"y": "independent"}}},

    {"title": "SI", "width": 166, "height": 191,
     "layer": [
      {"encoding": {
        "x": {"field": "x", "type": "quantitative", "scale": {"domain": [-10.6, 155], "nice": false, "zero": false},
          "axis": {"values": [0, 50, 100, 150], "title": "**\u00a0p<0.005\u00a0,\u00a0*\u00a0\u00a0\u00a0\u00a0p<0.05", "titleFont": "Liberation Serif", "titleFontSize": 28, "titleFontWeight": "normal", "titleX": 27, "titleY": 118, "titleAlign": "left", "titleBaseline": "alphabetic"}},
        "y": {"field": "y", "type": "quantitative", "scale": {"domain": [0.3554, 1.7337], "nice": false, "zero": false}, "axis": {"values": [0.5, 1, 1.5], "title": null}}},
       "layer": [
        {"data": {"name": "band"}, "transform": [{"filter": "datum.s === 'SI'"}], "mark": {"type": "rect", "color": "#c3cbf2"}, "encoding": {"x2": {"field": "x2"}, "y2": {"field": "y2"}}},
        {"data": {"name": "fit"}, "transform": [{"filter": "datum.s === 'SI'"}], "mark": {"type": "line", "color": "#2c3a96", "strokeWidth": 2.5}},
        {"data": {"name": "pts"}, "transform": [{"filter": "datum.s === 'SI'"}], "mark": {"type": "errorbar", "ticks": {"size": 7, "thickness": 2}, "rule": {"strokeWidth": 2.2}},
         "encoding": {"y": {"field": "lo", "type": "quantitative", "scale": {"domain": [0.3554, 1.7337], "nice": false, "zero": false}, "axis": {"values": [0.5, 1, 1.5], "title": null}}, "y2": {"field": "hi"},
          "color": {"condition": [{"test": "datum.session === 'Second Session'", "value": "#b5311f"}, {"test": "datum.session === 'Third Session'", "value": "#111111"}], "value": "#2c3a96"}}},
        {"data": {"name": "pts"}, "transform": [{"filter": "datum.s === 'SI'"}], "mark": {"type": "point", "filled": false, "opacity": 1, "size": 230, "strokeWidth": 2.2},
         "encoding": {
          "color": {"field": "session", "type": "nominal", "scale": {"domain": ["First Session","Baseline 95% CI","SR Fit","Second Session","Third Session"], "range": ["#2c3a96","#c3cbf2","#2c3a96","#b5311f","#111111"]}},
          "shape": {"field": "session", "type": "nominal", "scale": {"domain": ["First Session","Baseline 95% CI","SR Fit","Second Session","Third Session"], "range": ["circle","M-4.5,-1.2H4.5V1.2H-4.5Z","M-4.5,0H4.5","diamond","diamond"]}}}},
        {"data": {"name": "lab"}, "transform": [{"filter": "datum.s === 'SI'"}], "mark": {"type": "text", "align": "left", "baseline": "middle", "font": "DejaVu Sans", "fontSize": 19},
         "encoding": {"text": {"field": "t"}, "color": {"condition": [{"test": "datum.session === 'Second Session'", "value": "#b5311f"}, {"test": "datum.session === 'Third Session'", "value": "#111111"}], "value": "#2c3a96"}}}
       ]},
      {"data": {"values": [{}]}, "mark": {"type": "rule", "opacity": 0},
       "encoding": {"y": {"datum": 1, "type": "quantitative", "scale": {"domain": [0.2427, 1.2205], "nice": false, "zero": false}, "axis": {"orient": "right", "values": [0.4, 0.6, 0.8, 1, 1.2], "title": null}}}}
     ],
     "resolve": {"scale": {"y": "independent"}}},

    {"title": "SJ", "width": 166, "height": 191,
     "layer": [
      {"encoding": {
        "x": {"field": "x", "type": "quantitative", "scale": {"domain": [-11.8, 427], "nice": false, "zero": false},
          "axis": {"values": [0, 200, 400], "title": "SVS Level Normalized by GVS Threshold (%)", "titleFont": "Liberation Serif", "titleFontSize": 27, "titleFontWeight": "normal", "titleX": 225, "titleY": 69, "titleAlign": "center", "titleBaseline": "alphabetic"}},
        "y": {"field": "y", "type": "quantitative", "scale": {"domain": [0.1736, 0.6296], "nice": false, "zero": false}, "axis": {"values": [0.2, 0.3, 0.4, 0.5, 0.6], "title": null}}},
       "layer": [
        {"data": {"name": "band"}, "transform": [{"filter": "datum.s === 'SJ'"}], "mark": {"type": "rect", "color": "#c3cbf2"}, "encoding": {"x2": {"field": "x2"}, "y2": {"field": "y2"}}},
        {"data": {"name": "fit"}, "transform": [{"filter": "datum.s === 'SJ'"}], "mark": {"type": "line", "color": "#2c3a96", "strokeWidth": 2.5}},
        {"data": {"name": "pts"}, "transform": [{"filter": "datum.s === 'SJ'"}], "mark": {"type": "errorbar", "ticks": {"size": 7, "thickness": 2}, "rule": {"strokeWidth": 2.2}},
         "encoding": {"y": {"field": "lo", "type": "quantitative", "scale": {"domain": [0.1736, 0.6296], "nice": false, "zero": false}, "axis": {"values": [0.2, 0.3, 0.4, 0.5, 0.6], "title": null}}, "y2": {"field": "hi"},
          "color": {"condition": [{"test": "datum.session === 'Second Session'", "value": "#b5311f"}, {"test": "datum.session === 'Third Session'", "value": "#111111"}], "value": "#2c3a96"}}},
        {"data": {"name": "pts"}, "transform": [{"filter": "datum.s === 'SJ'"}], "mark": {"type": "point", "filled": false, "opacity": 1, "size": 230, "strokeWidth": 2.2},
         "encoding": {
          "color": {"field": "session", "type": "nominal", "scale": {"domain": ["First Session","Baseline 95% CI","SR Fit","Second Session","Third Session"], "range": ["#2c3a96","#c3cbf2","#2c3a96","#b5311f","#111111"]}},
          "shape": {"field": "session", "type": "nominal", "scale": {"domain": ["First Session","Baseline 95% CI","SR Fit","Second Session","Third Session"], "range": ["circle","M-4.5,-1.2H4.5V1.2H-4.5Z","M-4.5,0H4.5","diamond","diamond"]}}}},
        {"data": {"name": "lab"}, "transform": [{"filter": "datum.s === 'SJ'"}], "mark": {"type": "text", "align": "left", "baseline": "middle", "font": "DejaVu Sans", "fontSize": 19},
         "encoding": {"text": {"field": "t"}, "color": {"condition": [{"test": "datum.session === 'Second Session'", "value": "#b5311f"}, {"test": "datum.session === 'Third Session'", "value": "#111111"}], "value": "#2c3a96"}}}
       ]},
      {"data": {"values": [{}]}, "mark": {"type": "rule", "opacity": 0},
       "encoding": {"y": {"datum": 1, "type": "quantitative", "scale": {"domain": [0.3254, 1.211], "nice": false, "zero": false}, "axis": {"orient": "right", "values": [0.4, 0.6, 0.8, 1, 1.2], "title": null}}}}
     ],
     "resolve": {"scale": {"y": "independent"}}},

    {"title": "SK", "width": 166, "height": 191,
     "layer": [
      {"encoding": {
        "x": {"field": "x", "type": "quantitative", "scale": {"domain": [-8.9, 164], "nice": false, "zero": false}, "axis": {"values": [0, 50, 100, 150], "title": null}},
        "y": {"field": "y", "type": "quantitative", "scale": {"domain": [0.1342, 0.5527], "nice": false, "zero": false}, "axis": {"values": [0.2, 0.3, 0.4, 0.5], "title": null}}},
       "layer": [
        {"data": {"name": "band"}, "transform": [{"filter": "datum.s === 'SK'"}], "mark": {"type": "rect", "color": "#c3cbf2"}, "encoding": {"x2": {"field": "x2"}, "y2": {"field": "y2"}}},
        {"data": {"name": "fit"}, "transform": [{"filter": "datum.s === 'SK'"}], "mark": {"type": "line", "color": "#2c3a96", "strokeWidth": 2.5}},
        {"data": {"name": "pts"}, "transform": [{"filter": "datum.s === 'SK'"}], "mark": {"type": "errorbar", "ticks": {"size": 7, "thickness": 2}, "rule": {"strokeWidth": 2.2}},
         "encoding": {"y": {"field": "lo", "type": "quantitative", "scale": {"domain": [0.1342, 0.5527], "nice": false, "zero": false}, "axis": {"values": [0.2, 0.3, 0.4, 0.5], "title": null}}, "y2": {"field": "hi"},
          "color": {"condition": [{"test": "datum.session === 'Second Session'", "value": "#b5311f"}, {"test": "datum.session === 'Third Session'", "value": "#111111"}], "value": "#2c3a96"}}},
        {"data": {"name": "pts"}, "transform": [{"filter": "datum.s === 'SK'"}], "mark": {"type": "point", "filled": false, "opacity": 1, "size": 230, "strokeWidth": 2.2},
         "encoding": {
          "color": {"field": "session", "type": "nominal", "scale": {"domain": ["First Session","Baseline 95% CI","SR Fit","Second Session","Third Session"], "range": ["#2c3a96","#c3cbf2","#2c3a96","#b5311f","#111111"]}},
          "shape": {"field": "session", "type": "nominal", "scale": {"domain": ["First Session","Baseline 95% CI","SR Fit","Second Session","Third Session"], "range": ["circle","M-4.5,-1.2H4.5V1.2H-4.5Z","M-4.5,0H4.5","diamond","diamond"]}}}},
        {"data": {"name": "lab"}, "transform": [{"filter": "datum.s === 'SK'"}], "mark": {"type": "text", "align": "left", "baseline": "middle", "font": "DejaVu Sans", "fontSize": 19},
         "encoding": {"text": {"field": "t"}, "color": {"condition": [{"test": "datum.session === 'Second Session'", "value": "#b5311f"}, {"test": "datum.session === 'Third Session'", "value": "#111111"}], "value": "#2c3a96"}}}
       ]},
      {"data": {"values": [{}]}, "mark": {"type": "rule", "opacity": 0},
       "encoding": {"y": {"datum": 1, "type": "quantitative", "scale": {"domain": [0.295, 1.2626], "nice": false, "zero": false}, "axis": {"orient": "right", "values": [0.4, 0.6, 0.8, 1, 1.2], "title": null}}}}
     ],
     "resolve": {"scale": {"y": "independent"}}},

    {"title": "SL", "width": 166, "height": 191,
     "layer": [
      {"encoding": {
        "x": {"field": "x", "type": "quantitative", "scale": {"domain": [-12, 202], "nice": false, "zero": false}, "axis": {"values": [0, 100, 200], "title": null}},
        "y": {"field": "y", "type": "quantitative", "scale": {"domain": [0.1075, 0.4478], "nice": false, "zero": false}, "axis": {"values": [0.2, 0.3, 0.4], "title": null}}},
       "layer": [
        {"data": {"name": "band"}, "transform": [{"filter": "datum.s === 'SL'"}], "mark": {"type": "rect", "color": "#c3cbf2"}, "encoding": {"x2": {"field": "x2"}, "y2": {"field": "y2"}}},
        {"data": {"name": "fit"}, "transform": [{"filter": "datum.s === 'SL'"}], "mark": {"type": "line", "color": "#2c3a96", "strokeWidth": 2.5}},
        {"data": {"name": "pts"}, "transform": [{"filter": "datum.s === 'SL'"}], "mark": {"type": "errorbar", "ticks": {"size": 7, "thickness": 2}, "rule": {"strokeWidth": 2.2}},
         "encoding": {"y": {"field": "lo", "type": "quantitative", "scale": {"domain": [0.1075, 0.4478], "nice": false, "zero": false}, "axis": {"values": [0.2, 0.3, 0.4], "title": null}}, "y2": {"field": "hi"},
          "color": {"condition": [{"test": "datum.session === 'Second Session'", "value": "#b5311f"}, {"test": "datum.session === 'Third Session'", "value": "#111111"}], "value": "#2c3a96"}}},
        {"data": {"name": "pts"}, "transform": [{"filter": "datum.s === 'SL'"}], "mark": {"type": "point", "filled": false, "opacity": 1, "size": 230, "strokeWidth": 2.2},
         "encoding": {
          "color": {"field": "session", "type": "nominal", "scale": {"domain": ["First Session","Baseline 95% CI","SR Fit","Second Session","Third Session"], "range": ["#2c3a96","#c3cbf2","#2c3a96","#b5311f","#111111"]}},
          "shape": {"field": "session", "type": "nominal", "scale": {"domain": ["First Session","Baseline 95% CI","SR Fit","Second Session","Third Session"], "range": ["circle","M-4.5,-1.2H4.5V1.2H-4.5Z","M-4.5,0H4.5","diamond","diamond"]}}}},
        {"data": {"name": "lab"}, "transform": [{"filter": "datum.s === 'SL'"}], "mark": {"type": "text", "align": "left", "baseline": "middle", "font": "DejaVu Sans", "fontSize": 19},
         "encoding": {"text": {"field": "t"}, "color": {"condition": [{"test": "datum.session === 'Second Session'", "value": "#b5311f"}, {"test": "datum.session === 'Third Session'", "value": "#111111"}], "value": "#2c3a96"}}}
       ]},
      {"data": {"values": [{}]}, "mark": {"type": "rule", "opacity": 0},
       "encoding": {"y": {"datum": 1, "type": "quantitative", "scale": {"domain": [0.344, 1.409], "nice": false, "zero": false}, "axis": {"orient": "right", "values": [0.4, 0.6, 0.8, 1, 1.2, 1.4], "title": null}}}}
     ],
     "resolve": {"scale": {"y": "independent"}}}
  ],
  "config": {
    "view": {"stroke": null},
    "numberFormat": "~r",
    "axis": {"grid": false, "domainColor": "#000", "domainWidth": 2, "tickColor": "#000", "tickWidth": 1.5, "tickSize": -5,
      "labelFont": "DejaVu Sans", "labelFontSize": 18, "labelColor": "#000", "labelPadding": 10, "labelOverlap": false, "labelFlush": false, "titleColor": "#000"},
    "title": {"font": "Liberation Serif", "fontWeight": "bold", "fontSize": 22, "color": "#000", "offset": 8, "anchor": "middle", "frame": "group"}
  }
}
